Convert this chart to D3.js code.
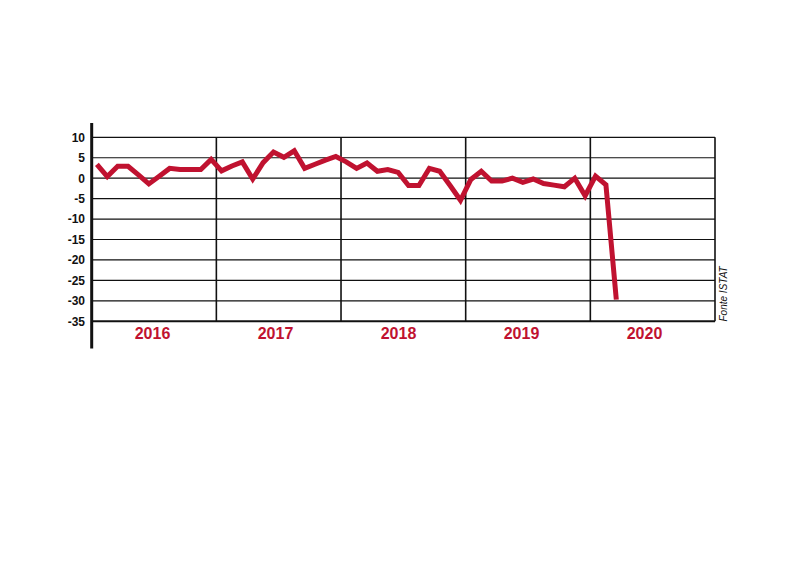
<!DOCTYPE html>
<html>
<head>
<meta charset="utf-8">
<script src="https://cdn.jsdelivr.net/npm/d3@7"></script>
<style>
  html, body { margin: 0; padding: 0; background: #fff; }
  svg { display: block; }
</style>
</head>
<body>
<svg id="chart" width="800" height="566"></svg>
<script>
// ---- data ----
const years = ["2016", "2017", "2018", "2019", "2020"];
const yTicks = [10, 5, 0, -5, -10, -15, -20, -25, -30, -35];
const values2016 = [3.4, 0.4, 2.9, 2.9, 0.8, -1.4, 0.5, 2.4, 2.1, 2.1, 2.1, 4.6];
const values2017 = [1.8, 3.0, 4.0, -0.2, 3.8, 6.4, 5.1, 6.7, 2.4, 3.4, 4.4, 5.3];
const values2018 = [4.0, 2.4, 3.7, 1.7, 2.1, 1.4, -1.8, -1.8, 2.4, 1.7, -1.8, -5.4];
const values2019 = [-0.3, 1.7, -0.7, -0.7, 0.0, -1.0, -0.2, -1.3, -1.7, -2.1, 0.0, -4.3];
const values2020 = [0.5, -1.6, -29.7];
const sourceLabel = "Fonte ISTAT";

(function () {
const series = [values2016, values2017, values2018, values2019, values2020];
const points = [];
series.forEach((arr, yi) => arr.forEach((v, m) => points.push({ t: +years[yi] + (m + 0.5) / 12, v })));

// ---- layout ----
const svg = d3.select("#chart");
const pLeft = 91.7, pRight = 715, pTop = 137.3, pBottom = 321.3;
const red = "#c01230";

const x = d3.scaleLinear().domain([+years[0], +years[years.length - 1] + 1]).range([pLeft, pRight]);
const y = d3.scaleLinear().domain([-35, 10]).range([pBottom, pTop]);
const xLabel = d3.scalePoint().domain(years).range([152.5, 644.5]);

// horizontal gridlines
svg.append("g").selectAll("line").data(yTicks).join("line")
  .attr("x1", pLeft).attr("x2", pRight)
  .attr("y1", d => y(d)).attr("y2", d => y(d))
  .attr("stroke", "#111")
  .attr("stroke-width", d => d === -35 ? 2 : 1.2);

// tick labels
svg.append("g").selectAll("text").data(yTicks).join("text")
  .attr("x", 85).attr("y", d => y(d)).attr("dy", "0.36em")
  .attr("text-anchor", "end")
  .attr("font-family", "Arial, 'Liberation Sans', sans-serif")
  .attr("font-weight", "bold").attr("font-size", 12)
  .attr("fill", "#111")
  .text(d => d);

// year dividers + right border
const dividers = years.slice(1).map(d => +d).concat([+years[years.length - 1] + 1]);
svg.append("g").selectAll("line").data(dividers).join("line")
  .attr("x1", d => x(d)).attr("x2", d => x(d))
  .attr("y1", pTop).attr("y2", pBottom)
  .attr("stroke", "#111").attr("stroke-width", 1.6);

// left thick axis
svg.append("line")
  .attr("x1", pLeft).attr("x2", pLeft).attr("y1", 123).attr("y2", 348.5)
  .attr("stroke", "#111").attr("stroke-width", 3);

// year labels
svg.append("g").selectAll("text").data(years).join("text")
  .attr("x", d => xLabel(d)).attr("y", 338.5)
  .attr("text-anchor", "middle")
  .attr("font-family", "Arial, 'Liberation Sans', sans-serif")
  .attr("font-weight", "bold").attr("font-size", 16)
  .attr("fill", red)
  .text(d => d);

// line
const line = d3.line().x(d => x(d.t)).y(d => y(d.v));
svg.append("path").datum(points)
  .attr("d", line)
  .attr("fill", "none")
  .attr("stroke", red).attr("stroke-width", 5)
  .attr("stroke-linejoin", "miter").attr("stroke-miterlimit", 4);

// source
svg.append("text")
  .attr("transform", "translate(727,321.5) rotate(-90)")
  .attr("font-family", "Arial, 'Liberation Sans', sans-serif")
  .attr("font-style", "italic").attr("font-size", 10)
  .attr("fill", "#111")
  .text(sourceLabel);
})();
</script>
</body>
</html>
